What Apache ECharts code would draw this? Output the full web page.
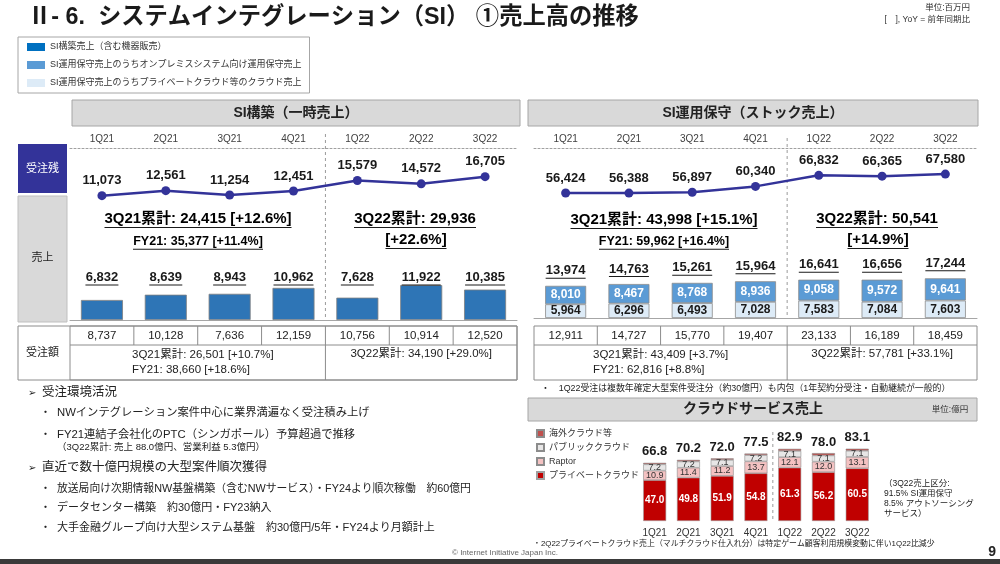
<!DOCTYPE html>
<html><head><meta charset="utf-8">
<script src="https://cdn.jsdelivr.net/npm/echarts@6/dist/echarts.min.js"></script>
<style>html,body{margin:0;padding:0;background:#fff}#c{width:1000px;height:564px}</style>
</head><body><div id="c"></div>
<script>
// ---------- data ----------
const quarters = ['1Q21','2Q21','3Q21','4Q21','1Q22','2Q22','3Q22'];
const siBacklog = [11073,12561,11254,12451,15579,14572,16705];
const siSales   = [6832,8639,8943,10962,7628,11922,10385];
const siOrders  = [8737,10128,7636,12159,10756,10914,12520];
const opBacklog = [56424,56388,56897,60340,66832,66365,67580];
const opOnprem  = [8010,8467,8768,8936,9058,9572,9641];
const opCloud   = [5964,6296,6493,7028,7583,7084,7603];
const opTotal   = [13974,14763,15261,15964,16641,16656,17244];
const opOrders  = [12911,14727,15770,19407,23133,16189,18459];
const clPrivate  = [47.0,49.8,51.9,54.8,61.3,56.2,60.5];
const clRaptor   = [10.9,11.4,11.2,13.7,12.1,12.0,13.1];
const clPublic   = [7.2,7.2,7.1,7.2,7.1,7.1,7.1];
const clOverseas = [1.7,1.8,1.8,1.8,2.4,2.7,2.4];
const clTotal    = [66.8,70.2,72.0,77.5,82.9,78.0,83.1];
const siCum = ['3Q21累計: 24,415 [+12.6%]','FY21: 35,377 [+11.4%]','3Q22累計: 29,936','[+22.6%]'];
const opCum = ['3Q21累計: 43,998 [+15.1%]','FY21: 59,962 [+16.4%]','3Q22累計: 50,541','[+14.9%]'];
const siOrdCum = ['3Q21累計: 26,501 [+10.7%]\nFY21: 38,660 [+18.6%]','3Q22累計: 34,190 [+29.0%]'];
const opOrdCum = ['3Q21累計: 43,409 [+3.7%]\nFY21: 62,816 [+8.8%]','3Q22累計: 57,781 [+33.1%]'];
const legendNames = ['SI構築売上（含む機器販売）','SI運用保守売上のうちオンプレミスシステム向け運用保守売上','SI運用保守売上のうちプライベートクラウド等のクラウド売上'];
const cloudNames = ['プライベートクラウド','Raptor','パブリッククラウド','海外クラウド等'];

// ---------- style ----------
const FF = '"Liberation Sans", Arial, "Noto Sans CJK JP", sans-serif';
const DARK = '#1a1a1a';
const fmt = v => v.toLocaleString('en-US');
const mctx = document.createElement('canvas').getContext('2d');
const RICH = {};
function ul(text, size) {
  mctx.font = 'bold ' + size + 'px ' + FF;
  const w = Math.round(mctx.measureText(text).width);
  const vk = 'v' + Math.round(size * 10), uk = 'u' + w;
  RICH[vk] = {fontFamily: FF, fontWeight: 'bold', fontSize: size, color: DARK, lineHeight: size};
  RICH[uk] = {width: w, height: 1, backgroundColor: DARK, fontSize: 1, lineHeight: 2};
  return '{' + vk + '|' + text + '}\n{' + uk + '| }';
}
const siSalesLbl = siSales.map(v => ul(fmt(v), 13));
const opTotalLbl = opTotal.map(v => ul(fmt(v), 13));

const G = {
  siLine: {left: 70, top: 148, width: 447, height: 85},
  siBar:  {left: 70, top: 250, width: 447, height: 70},
  opLine: {left: 534, top: 148, width: 443, height: 73},
  opBar:  {left: 534, top: 248, width: 443, height: 70},
  cl:     {left: 637.8, top: 431, width: 236.3, height: 90}
};
const topAxis = i => ({gridIndex: i, type: 'category', data: quarters, position: 'top',
  axisLine: {onZero: false, lineStyle: {color: '#a0a0a0', type: [2, 2], width: 1}}, axisTick: {show: false},
  axisLabel: {fontFamily: FF, fontSize: 10, color: '#404040', margin: 4}});
const barAxis = i => ({gridIndex: i, type: 'category', data: quarters,
  axisLine: {onZero: false, lineStyle: {color: '#a6a6a6', width: 1}}, axisTick: {show: false}, axisLabel: {show: false}});
const lineSeries = (name, data, idx) => ({
  type: 'line', name: name, data: data, xAxisIndex: idx, yAxisIndex: idx,
  symbol: 'circle', symbolSize: 9, itemStyle: {color: '#333399'},
  lineStyle: {color: '#333399', width: 2.5}, z: 5,
  label: {show: true, position: 'top', distance: 4, fontFamily: FF, fontWeight: 'bold', fontSize: 13, color: DARK,
    formatter: p => fmt(p.value)}
});
const HIDDEN = 'rgba(0,0,0,0)';

const chart = echarts.init(document.getElementById('c'));
const option = {
  animation: false,
  backgroundColor: '#fff',
  grid: [G.siLine, G.siBar, G.opLine, G.opBar, G.cl],
  xAxis: [topAxis(0), barAxis(1), topAxis(2), barAxis(3),
    {gridIndex: 4, type: 'category', data: quarters, axisLine: {show: false}, axisTick: {show: false},
     axisLabel: {fontFamily: FF, fontSize: 10, color: '#333', margin: 7}}],
  yAxis: [
    {gridIndex: 0, type: 'value', min: 0, max: 25200, show: false},
    {gridIndex: 1, type: 'value', min: 0, max: 23900, show: false},
    {gridIndex: 2, type: 'value', min: 40000, max: 82900, show: false},
    {gridIndex: 3, type: 'value', min: 0, max: 30400, show: false},
    {gridIndex: 4, type: 'value', min: 0, max: 103.4, show: false}
  ],
  legend: [
    {orient: 'vertical', left: 18, top: 37, selectedMode: false, icon: 'rect',
     itemWidth: 18, itemHeight: 8, itemGap: 6, padding: [4, 8, 4, 9],
     borderColor: '#a6a6a6', borderWidth: 1,
     itemStyle: {borderWidth: 0},
     textStyle: {fontFamily: FF, fontSize: 9, color: '#333', lineHeight: 12},
     data: [{name: legendNames[0], itemStyle: {color: '#0070c0'}}, legendNames[1], legendNames[2]]},
    {orient: 'vertical', left: 536, top: 428, selectedMode: false, icon: 'rect',
     itemWidth: 7, itemHeight: 7, itemGap: 3, padding: 0,
     textStyle: {fontFamily: FF, fontSize: 9, color: '#333', lineHeight: 11},
     data: [cloudNames[3], cloudNames[2], cloudNames[1], cloudNames[0]]}
  ],
  series: [
    lineSeries('SI構築受注残', siBacklog, 0),
    {type: 'bar', name: legendNames[0], data: siSales, xAxisIndex: 1, yAxisIndex: 1, barWidth: 42,
     itemStyle: {color: '#2e75b6', borderColor: '#7f7f7f', borderWidth: 0.8},
     label: {show: true, position: 'insideBottom', distance: 0, offset: [0, -34],
       formatter: p => siSalesLbl[p.dataIndex], rich: RICH}},
    lineSeries('SI運用保守受注残', opBacklog, 2),
    {type: 'bar', name: legendNames[2], data: opCloud, xAxisIndex: 3, yAxisIndex: 3, stack: 'op', barWidth: 41,
     itemStyle: {color: '#ddebf7', borderColor: '#8c8c8c', borderWidth: 0.8},
     label: {show: true, position: 'inside', fontFamily: FF, fontWeight: 'bold', fontSize: 12, color: DARK,
       formatter: p => fmt(p.value)}},
    {type: 'bar', name: legendNames[1], data: opOnprem, xAxisIndex: 3, yAxisIndex: 3, stack: 'op', barWidth: 41,
     itemStyle: {color: '#5b9bd5', borderColor: '#8c8c8c', borderWidth: 0.8},
     label: {show: true, position: 'inside', fontFamily: FF, fontWeight: 'bold', fontSize: 12, color: '#fff',
       formatter: p => fmt(p.value)}},
    {type: 'scatter', name: 'SI運用保守売上合計', data: opTotal, xAxisIndex: 3, yAxisIndex: 3, symbolSize: 1,
     itemStyle: {color: HIDDEN, opacity: 1}, z: 6,
     label: {show: true, position: 'top', distance: 6, color: DARK,
       formatter: p => opTotalLbl[p.dataIndex], rich: RICH}},
    {type: 'bar', name: cloudNames[0], data: clPrivate, xAxisIndex: 4, yAxisIndex: 4, stack: 'cl', barWidth: 23,
     itemStyle: {color: '#c00000', borderColor: '#a0a0a0', borderWidth: 0.6},
     label: {show: true, position: 'inside', fontFamily: FF, fontWeight: 'bold', fontSize: 10, color: '#fff',
       formatter: p => p.value.toFixed(1)}},
    {type: 'bar', name: cloudNames[1], data: clRaptor, xAxisIndex: 4, yAxisIndex: 4, stack: 'cl', barWidth: 23,
     itemStyle: {color: '#f4c2c2', borderColor: '#8c8c8c', borderWidth: 0.6},
     label: {show: true, position: 'inside', fontFamily: FF, fontSize: 9, color: '#333',
       formatter: p => p.value.toFixed(1)}},
    {type: 'bar', name: cloudNames[2], data: clPublic, xAxisIndex: 4, yAxisIndex: 4, stack: 'cl', barWidth: 23,
     itemStyle: {color: '#e7e6e6', borderColor: '#8c8c8c', borderWidth: 0.6},
     label: {show: true, position: 'inside', fontFamily: FF, fontSize: 9, color: '#333',
       formatter: p => p.value.toFixed(1)}},
    {type: 'bar', name: cloudNames[3], data: clOverseas, xAxisIndex: 4, yAxisIndex: 4, stack: 'cl', barWidth: 23,
     itemStyle: {color: '#c0504d', borderColor: '#8c8c8c', borderWidth: 0.6}},
    {type: 'scatter', name: 'クラウド合計', data: clTotal, xAxisIndex: 4, yAxisIndex: 4, symbolSize: 1,
     itemStyle: {color: HIDDEN, opacity: 1}, z: 6,
     label: {show: true, position: 'top', distance: 4, fontFamily: FF, fontWeight: 'bold', fontSize: 13, color: DARK,
       formatter: p => p.value.toFixed(1)}}
  ]
};
chart.setOption(option);

// ---------- decorations / tables ----------
const T = (x, y, text, o = {}) => ({type: 'text', x: x, y: y, z: o.z || 10, silent: true,
  style: {text: text, fontFamily: FF, fontSize: o.size || 11, fontWeight: o.bold ? 'bold' : 'normal',
    fill: o.color || '#222', textAlign: o.align || 'left', align: o.align || 'left',
    textVerticalAlign: 'middle', verticalAlign: 'middle', lineHeight: o.lh || null}});
const R = (x, y, w, h, fill, stroke, z) => ({type: 'rect', z: z || 1, silent: true, shape: {x: x, y: y, width: w, height: h},
  style: {fill: fill || 'none', stroke: stroke || null, lineWidth: 1}});
const L = (x1, y1, x2, y2, color, dash) => ({type: 'line', z: 3, silent: true, shape: {x1: x1, y1: y1, x2: x2, y2: y2},
  style: {stroke: color || '#8c8c8c', lineWidth: 1, lineDash: dash || null}});
const UL = (x, y, text, size) => ({type: 'text', x: x, y: y - size / 2, z: 10, silent: true,
  style: {text: ul(text, size), rich: RICH, textAlign: 'center', align: 'center',
    textVerticalAlign: 'top', verticalAlign: 'top'}});

const px = (axis, i) => chart.convertToPixel({xAxisIndex: axis}, quarters[i]);
function edges(axis) {
  const c = quarters.map((q, i) => px(axis, i));
  const band = c[1] - c[0];
  const e = c.map(v => v - band / 2); e.push(c[6] + band / 2);
  return {c: c, e: e};
}
const siE = edges(1), opE = edges(3), clE = edges(4);
const g = [];
// title
g.push(T(28, 18, 'Ⅱ- 6.  システムインテグレーション（SI） ①売上高の推移', {size: 23.3, bold: true, color: '#1a1a1a'}));
g.push(T(970, 8, '単位:百万円', {size: 8.5, align: 'right', color: '#333'}));
g.push(T(970, 20, '[　], YoY = 前年同期比', {size: 8.5, align: 'right', color: '#333'}));
// headers
g.push(R(72, 100, 448, 26, '#d9d9d9', '#a6a6a6'));
g.push(T(296, 113, 'SI構築（一時売上）', {size: 14, bold: true, align: 'center'}));
g.push(R(528, 100, 450, 26, '#d9d9d9', '#a6a6a6'));
g.push(T(753, 113, 'SI運用保守（ストック売上）', {size: 14, bold: true, align: 'center'}));
// left label boxes
g.push(R(18, 144, 49, 49, '#333399', null));
g.push(T(42.5, 168.5, '受注残', {size: 11, color: '#fff', align: 'center'}));
g.push(R(18, 196, 49, 126, '#d9d9d9', '#bfbfbf'));
g.push(T(42.5, 258, '売上', {size: 11, align: 'center'}));
// vertical dashed separators
g.push(L(siE.e[4], 134, siE.e[4], 320, '#9a9a9a', [3, 3]));
g.push(L(opE.e[4], 138, opE.e[4], 318, '#9a9a9a', [3, 3]));
g.push(L(clE.e[4], 432, clE.e[4], 521, '#9a9a9a', [3, 3]));
// cumulative texts
g.push(UL(198, 219, siCum[0], 15));
g.push(UL(198, 242, siCum[1], 12.5));
g.push(UL(415, 219, siCum[2], 15));
g.push(UL(416, 240, siCum[3], 15));
g.push(UL(664, 220, opCum[0], 15));
g.push(UL(664, 242, opCum[1], 12.5));
g.push(UL(877, 219, opCum[2], 15));
g.push(UL(878, 240, opCum[3], 15));
// order tables
const tTop = 326, tMid = 345, tBot = 380;
g.push(R(18, tTop, siE.e[7] - 18, tBot - tTop, '#fff', '#8c8c8c', 1));
g.push(T(42.5, 353, '受注額', {size: 11, align: 'center'}));
function table(E, orders, cum, cumX) {
  g.push(R(E.e[0], tTop, E.e[7] - E.e[0], tBot - tTop, 'none', '#8c8c8c', 2));
  g.push(L(E.e[0], tMid, E.e[7], tMid));
  for (let i = 1; i < 7; i++) g.push(L(E.e[i], tTop, E.e[i], i === 4 ? tBot : tMid));
  orders.forEach((v, i) => g.push(T(E.c[i], 336, fmt(v), {size: 11.5, align: 'center'})));
  g.push(T(cumX[0], 362, cum[0], {size: 11.5, lh: 15}));
  g.push(T(cumX[1], 354, cum[1], {size: 11.5, align: 'center'}));
}
table(siE, siOrders, siOrdCum, [132, (siE.e[4] + siE.e[7]) / 2]);
table(opE, opOrders, opOrdCum, [593, (opE.e[4] + opE.e[7]) / 2]);
g.push(T(541, 389, '・　1Q22受注は複数年確定大型案件受注分（約30億円）も内包（1年契約分受注・自動継続が一般的）', {size: 8.9}));
// bullets
const arrow = '➢';
g.push(T(28, 393, arrow, {size: 10}));
g.push(T(42, 393, '受注環境活況', {size: 12.5}));
g.push(T(40, 413, '・', {size: 11}));
g.push(T(57, 413, 'NWインテグレーション案件中心に業界満遍なく受注積み上げ', {size: 11.3}));
g.push(T(40, 435, '・', {size: 11}));
g.push(T(57, 435, 'FY21連結子会社化のPTC（シンガポール）予算超過で推移', {size: 11.3}));
g.push(T(57, 447, '（3Q22累計: 売上 88.0億円、営業利益 5.3億円）', {size: 9.5}));
g.push(T(28, 468, arrow, {size: 10}));
g.push(T(42, 468, '直近で数十億円規模の大型案件順次獲得', {size: 12.5}));
g.push(T(40, 489, '・', {size: 11}));
g.push(T(57, 489, '放送局向け次期情報NW基盤構築（含むNWサービス）・FY24より順次稼働　約60億円', {size: 10.8}));
g.push(T(40, 508, '・', {size: 11}));
g.push(T(57, 508, 'データセンター構築　約30億円・FY23納入', {size: 11}));
g.push(T(40, 528, '・', {size: 11}));
g.push(T(57, 528, '大手金融グループ向け大型システム基盤　約30億円/5年・FY24より月額計上', {size: 11}));
// cloud panel
g.push(R(528, 398, 449, 23, '#d9d9d9', '#a6a6a6'));
g.push(T(753, 409.5, 'クラウドサービス売上', {size: 14, bold: true, align: 'center'}));
g.push(T(950, 409.5, '単位:億円', {size: 8.5, align: 'center', color: '#333'}));
g.push(T(884, 498.5, '（3Q22売上区分:\n91.5% SI運用保守\n8.5% アウトソーシング\nサービス）', {size: 8.5, lh: 10}));
g.push(T(533, 544, '・2Q22プライベートクラウド売上（マルチクラウド仕入れ分）は特定ゲーム顧客利用規模変動に伴い1Q22比減少', {size: 7.9}));
// footer
g.push(T(505, 553, '© Internet Initiative Japan Inc.', {size: 8, align: 'center', color: '#666'}));
g.push(T(996, 552, '9', {size: 14, bold: true, align: 'right', color: '#222'}));
g.push(R(0, 559, 1000, 5, '#3a3a3a', null));
chart.setOption({graphic: {elements: g}});
</script></body></html>
